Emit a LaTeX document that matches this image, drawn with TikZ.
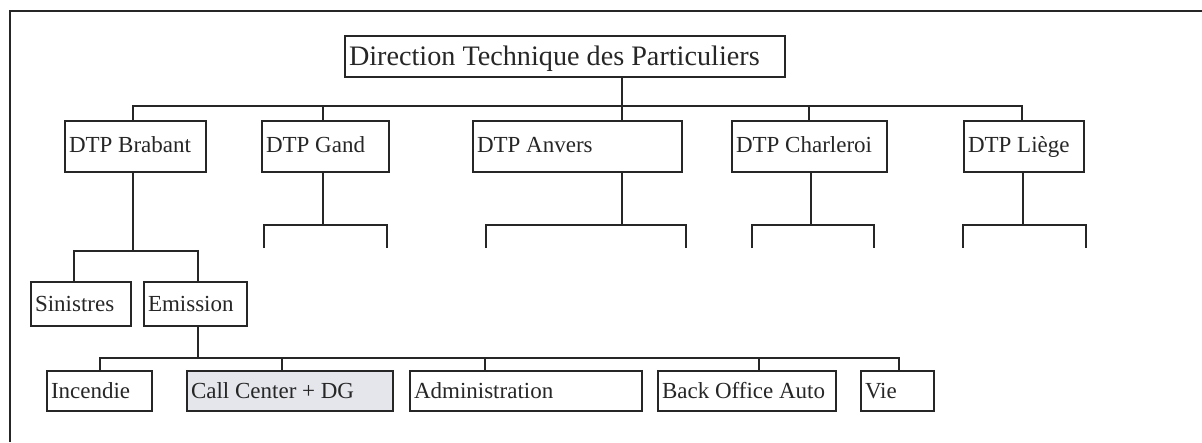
\documentclass[tikz,border=0pt]{standalone}
\usepackage{fontspec}
\setmainfont{Liberation Serif}
\definecolor{ccfill}{HTML}{E4E6EC}
\begin{document}
\begin{tikzpicture}[x=1pt,y=-1pt,
  ink/.style={line width=1.7pt, draw=black!85},
  box/.style={ink, inner xsep=4pt, inner ysep=0pt, outer sep=0pt, anchor=north west,
    align=flush left, text=black!85, font=\fontsize{23}{26}\selectfont,
    execute at begin node={\rule[-0.26em]{0pt}{1.18em}}},
  lvlone/.style={execute at begin node={\rule[-0.36em]{0pt}{1.17em}}},
  big/.style={font=\fontsize{28.2}{32}\selectfont},
  shade/.style={fill=ccfill}]
\useasboundingbox (0,0) rectangle (1202,442);
% frame
\draw[ink] (10,442) -- (10,11) -- (1202,11);
% level 0
\node[box, big, text width=432pt, minimum height=41pt] (top) at (345,36) {Direction Technique des Particuliers};
% level 1
\node[box, lvlone, text width=133pt, minimum height=51pt] (brab) at (65,121) {DTP Brabant};
\node[box, lvlone, text width=119pt, minimum height=51pt] (gand) at (262,121) {DTP Gand};
\node[box, lvlone, text width=201pt, minimum height=51pt] (anv) at (473,121) {DTP Anvers};
\node[box, lvlone, text width=147pt, minimum height=51pt] (charl) at (732,121) {DTP Charleroi};
\node[box, lvlone, text width=112pt, minimum height=51pt] (liege) at (964,121) {DTP Liège};
% level 2
\node[box, text width=92pt, minimum height=44pt] (sin) at (31,282) {Sinistres};
\node[box, text width=95pt, minimum height=44pt] (emi) at (144,282) {Emission};
% level 3
\node[box, text width=97pt, minimum height=40pt] (inc) at (47,371) {Incendie};
\node[box, shade, text width=198pt, minimum height=40pt] (call) at (187,371) {Call Center + DG};
\node[box, text width=224pt, minimum height=40pt] (adm) at (410,371) {Administration};
\node[box, text width=170pt, minimum height=40pt] (back) at (658,371) {Back Office Auto};
\node[box, text width=65pt, minimum height=40pt] (vie) at (861,371) {Vie};
% bus coordinates
\coordinate (j0) at (622,106);
\coordinate (j1) at (133,251);
\coordinate (j2) at (198,358);
% level 0 -> 1
\draw[ink] (top.south -| j0) -- (j0);
\draw[ink] (brab.north -| 133,0) -- (133,106) -- (1022,106) -- (liege.north -| 1022,0);
\draw[ink] (gand.north -| 323,0) -- (323,106);
\draw[ink] (anv.north -| 622,0) -- (622,106);
\draw[ink] (charl.north -| 809,0) -- (809,106);
% empty brackets under Gand, Anvers, Charleroi, Liège
\draw[ink] (gand.south -| 323,0) -- (323,225);
\draw[ink] (264,248) -- (264,225) -- (387,225) -- (387,248);
\draw[ink] (anv.south -| 622,0) -- (622,225);
\draw[ink] (486,248) -- (486,225) -- (686,225) -- (686,248);
\draw[ink] (charl.south -| 811,0) -- (811,225);
\draw[ink] (752,248) -- (752,225) -- (874,225) -- (874,248);
\draw[ink] (liege.south -| 1023,0) -- (1023,225);
\draw[ink] (963,248) -- (963,225) -- (1086,225) -- (1086,248);
% Brabant -> Sinistres, Emission
\draw[ink] (brab.south -| j1) -- (j1);
\draw[ink] (sin.north -| 74,0) -- (74,251) -- (198,251) -- (emi.north -| 198,0);
% Emission -> level 3
\draw[ink] (emi.south -| j2) -- (j2);
\draw[ink] (inc.north -| 100,0) -- (100,358) -- (899,358) -- (vie.north -| 899,0);
\draw[ink] (call.north -| 282,0) -- (282,358);
\draw[ink] (adm.north -| 485,0) -- (485,358);
\draw[ink] (back.north -| 759,0) -- (759,358);
\end{tikzpicture}
\end{document}
